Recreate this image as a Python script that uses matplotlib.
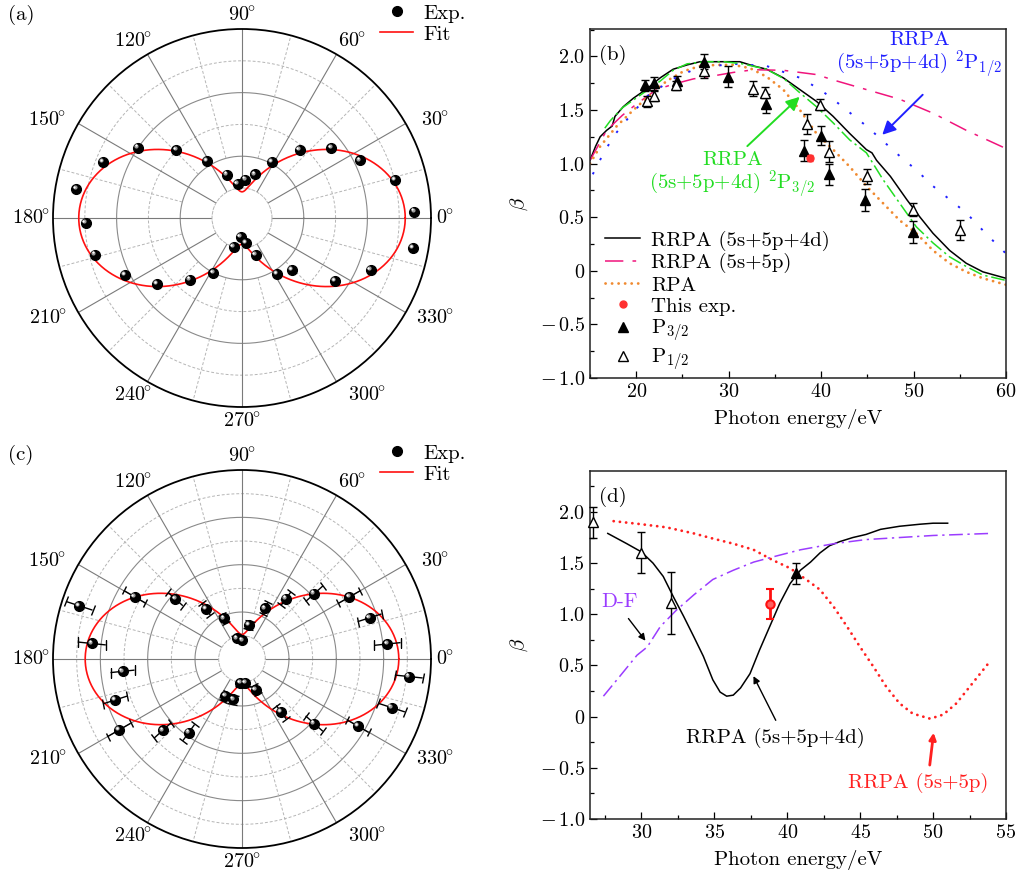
import numpy as np
import matplotlib
matplotlib.use('Agg')
import matplotlib.pyplot as plt
from matplotlib.ticker import MultipleLocator, FuncFormatter
from matplotlib.lines import Line2D
from matplotlib.transforms import offset_copy

plt.rcParams['font.family'] = 'cmr10'
plt.rcParams['mathtext.fontset'] = 'cm'
plt.rcParams['axes.unicode_minus'] = False
plt.rcParams['axes.formatter.use_mathtext'] = True
plt.rcParams['font.size'] = 14

# ---- (a) angular distribution, radial units = grid rings ----
theta_a = [170.1, 181.9, 194.0, 158.0, 206.0, 145.9, 217.9, 133.9, 229.9, 121.6,
           242.5, 109.1, 253.8, 97.2, 265.9, 85.0, 279.0, 73.4, 290.3, 61.8,
           301.8, 314.1, 49.8, 38.1, 326.0, 26.0, 338.0, 13.9, 2.1, 350.0]
r_a = [4.34, 3.98, 3.82, 3.78, 3.14, 3.01, 2.45, 2.03, 1.59, 1.17,
       1.01, 0.50, 0.00, 0.14, -0.35, 0.27, -0.14, 0.49, 0.30, 1.05,
       1.13, 1.33, 1.86, 2.63, 2.59, 3.19, 3.42, 4.01, 4.48, 4.51]
fit_a = (-0.12, 4.31)   # r = offset + amp * cos^2(theta)

# ---- (c) angular distribution with errors ----
theta_c = [161.9, 174.1, 185.9, 197.9, 210.0, 149.9, 222.0, 138.0, 234.1, 125.8,
           113.9, 245.9, 257.9, 103.6, 89.0, 266.0, 277.8, 78.4, 293.8, 65.3,
           306.4, 53.9, 42.1, 318.2, 30.0, 329.9, 17.9, 5.9, 342.0, 354.0]
r_c = [6.25, 5.39, 4.09, 4.65, 5.01, 4.26, 3.52, 2.80, 2.85, 1.61,
       0.89, 0.74, 0.76, -0.09, -0.20, 0.02, 0.05, 0.48, 0.44, 1.37,
       1.81, 2.17, 3.13, 3.11, 4.25, 4.67, 4.68, 5.19, 5.66, 6.10]
err_c = [0.59, 0.59, 0.51, 0.53, 0.56, 0.53, 0.49, 0.42, 0.42, 0.31,
         0.21, 0.21, 0.21, 0.14, 0.14, 0.14, 0.14, 0.17, 0.21, 0.28,
         0.35, 0.35, 0.49, 0.49, 0.53, 0.53, 0.53, 0.56, 0.59, 0.59]
fit_c = (0.05, 5.59)

angle_labels = [0, 30, 60, 90, 120, 150, 180, 210, 240, 270, 300, 330]

# ---- (b) beta vs photon energy ----
rrpa_b_x = [15.0, 15.6, 16.1, 16.8, 17.4, 17.7, 18.6, 19.7, 21.2, 22.6, 24.0, 25.5, 26.9,
            28.4, 31.2, 32.7, 34.1, 35.9, 37.7, 39.5, 41.3, 43.1, 44.9, 45.5, 46.0, 47.5,
            49.3, 50.7, 52.1, 53.9, 55.7, 57.5, 60.0]
rrpa_b_y = [1.03, 1.16, 1.25, 1.31, 1.35, 1.44, 1.53, 1.61, 1.70, 1.80, 1.88, 1.92, 1.95,
            1.95, 1.95, 1.91, 1.88, 1.80, 1.69, 1.58, 1.44, 1.28, 1.13, 1.10, 1.03, 0.88,
            0.66, 0.50, 0.35, 0.19, 0.07, -0.01, -0.07]
rrpa55_b_x = [15.0, 16.8, 18.5, 20.1, 22.2, 24.0, 26.2, 28.5, 30.5, 32.7, 35.9, 39.5,
              41.3, 44.9, 48.5, 52.1, 55.7, 60.0]
rrpa55_b_y = [1.03, 1.31, 1.45, 1.56, 1.69, 1.74, 1.79, 1.82, 1.85, 1.875, 1.87, 1.83,
              1.78, 1.69, 1.60, 1.47, 1.31, 1.14]
rpa_b_x = [15.0, 16.1, 17.9, 19.7, 21.5, 23.3, 25.1, 26.9, 28.7, 30.5, 32.3, 34.1, 35.9,
           37.7, 39.5, 41.3, 43.1, 44.9, 46.7, 48.5, 50.3, 52.1, 53.9, 55.7, 57.5, 60.0]
rpa_b_y = [1.00, 1.16, 1.35, 1.50, 1.64, 1.77, 1.86, 1.91, 1.92, 1.92, 1.89, 1.81, 1.69,
           1.50, 1.28, 1.13, 0.97, 0.79, 0.63, 0.47, 0.35, 0.19, 0.07, -0.01, -0.07, -0.13]
p12_b_x = [15.3, 16.0, 17.5, 19.0, 21.2, 24.0, 26.2, 28.4, 30.5, 34.1, 37.7, 39.9, 41.3,
           44.9, 48.5, 50.3, 52.1, 55.7, 57.9, 60.0]
p12_b_y = [0.90, 1.02, 1.25, 1.41, 1.63, 1.79, 1.875, 1.91, 1.93, 1.91, 1.80, 1.69, 1.60,
           1.35, 1.07, 0.94, 0.79, 0.54, 0.34, 0.16]
p32_b_x = [16.6, 17.2, 18.5, 20.8, 22.6, 24.0, 25.5, 27.5, 29.5, 31.5, 34.1, 36.0, 37.7,
           39.5, 41.3, 43.1, 44.9, 46.7, 48.5, 50.3, 52.1, 53.9, 55.7, 57.5, 60.0]
p32_b_y = [1.33, 1.40, 1.52, 1.66, 1.77, 1.87, 1.93, 1.95, 1.95, 1.93, 1.88, 1.79, 1.66,
           1.53, 1.38, 1.22, 1.10, 0.85, 0.63, 0.41, 0.26, 0.13, 0.04, -0.04, -0.09]
fill_b_x = [20.9, 21.9, 24.4, 27.3, 29.9, 34.0, 38.2, 40.0, 40.8, 44.8, 49.9]
fill_b_y = [1.73, 1.75, 1.77, 1.95, 1.81, 1.56, 1.12, 1.26, 0.90, 0.66, 0.36]
fill_b_e = [0.05, 0.06, 0.05, 0.07, 0.10, 0.09, 0.10, 0.09, 0.10, 0.10, 0.10]
open_b_x = [21.2, 21.9, 24.3, 27.3, 32.6, 33.9, 38.5, 39.9, 40.8, 45.0, 49.9, 55.0]
open_b_y = [1.58, 1.63, 1.73, 1.86, 1.70, 1.66, 1.37, 1.55, 1.11, 0.88, 0.57, 0.38]
open_b_e = [0.05, 0.05, 0.04, 0.06, 0.07, 0.05, 0.09, 0.05, 0.10, 0.07, 0.06, 0.09]
this_b = (38.8, 1.05, 0.03)

# ---- (d) beta vs photon energy ----
rrpa_d_x = [27.7, 29.0, 30.0, 30.8, 31.5, 32.2, 32.9, 33.6, 34.25, 34.9, 35.4, 35.85,
            36.3, 36.8, 37.45, 38.1, 38.8, 39.5, 40.2, 40.9, 41.6, 42.25, 42.9, 43.6,
            44.5, 45.4, 46.4, 47.7, 49.1, 50.0, 51.0]
rrpa_d_y = [1.79, 1.69, 1.61, 1.50, 1.37, 1.17, 0.98, 0.78, 0.59, 0.36, 0.24, 0.20,
            0.21, 0.28, 0.42, 0.65, 0.88, 1.11, 1.30, 1.43, 1.51, 1.60, 1.67, 1.71,
            1.75, 1.78, 1.83, 1.86, 1.88, 1.89, 1.89]
rrpa55_d_x = [28.1, 30.0, 31.7, 33.6, 34.9, 36.3, 37.7, 39.0, 40.2, 41.3, 42.25, 43.2,
              44.1, 45.0, 45.9, 46.8, 47.7, 48.6, 49.8, 50.7, 51.6, 52.5, 53.9]
rrpa55_d_y = [1.91, 1.88, 1.85, 1.79, 1.74, 1.69, 1.63, 1.53, 1.45, 1.34, 1.24, 1.07,
              0.88, 0.68, 0.49, 0.29, 0.13, 0.03, -0.02, 0.02, 0.13, 0.29, 0.54]
df_d_x = [27.4, 28.5, 29.7, 30.4, 31.3, 32.4, 33.6, 34.9, 36.3, 37.7, 39.0, 40.9,
          43.2, 45.4, 47.7, 50.0, 53.9]
df_d_y = [0.20, 0.39, 0.60, 0.68, 0.88, 1.04, 1.19, 1.34, 1.43, 1.51, 1.56, 1.63,
          1.69, 1.73, 1.75, 1.77, 1.79]
open_d_x = [26.66, 30.0, 32.0]
open_d_y = [1.90, 1.60, 1.11]
open_d_e = [0.15, 0.20, 0.30]
fill_d = (40.6, 1.40, 0.10)
this_d = (38.8, 1.10, 0.15)

W, H = 1019, 876
fig = plt.figure(figsize=(W / 100, H / 100), dpi=100)
TXT = 15
# where each angle label sits, in px from the polar centre (x right, y up)
label_offsets = {0: (203, 0), 30: (193, 98), 60: (110, 177), 90: (0, 203),
                 120: (-109, 177), 150: (-195, 98), 180: (-211, 0), 210: (-194, -100),
                 240: (-109, -177), 270: (0, -203), 300: (125, -177), 330: (193, -100)}


def polar_panel(rect, th_deg, r, rmax, rorig, fit, err=None):
    ax = fig.add_axes(rect, projection='polar')
    ax.set_rorigin(rorig)
    ax.set_rlim(0, rmax)
    ax.set_yticks([])
    ax.grid(False)
    ticks = np.arange(0, 360, 15)
    ax.set_xticks(np.deg2rad(ticks))
    ax.set_xticklabels([''] * len(ticks))
    ax.tick_params(axis='x', direction='in', length=5, width=1)
    size_px = rect[2] * W
    for t in angle_labels:
        dx, dy = label_offsets[t]
        ax.text(0.5 + dx / size_px, 0.5 + dy / size_px, rf'${t}^{{\!\!\circ}}$',
                transform=ax.transAxes, ha='center', va='center', fontsize=14.5)
    ax.spines['polar'].set_linewidth(1.3)
    ax.spines['inner'].set_color('#b5b5b5')
    ax.spines['inner'].set_linewidth(0.7)
    ax.spines['inner'].set_linestyle((0, (3, 2)))

    circ = np.linspace(0, 2 * np.pi, 400)
    for k in range(1, rmax):
        if k % 2 == 1:
            ax.plot(circ, np.full_like(circ, k), color='#8a8a8a', lw=0.8, zorder=1)
        else:
            ax.plot(circ, np.full_like(circ, k), color='#b5b5b5', lw=0.7,
                    ls=(0, (3, 2)), zorder=1)
    for t in ticks:
        if t % 30 == 0:
            ax.plot([np.deg2rad(t)] * 2, [0, rmax], color='#7a7a7a', lw=0.8, zorder=1)
        else:
            ax.plot([np.deg2rad(t)] * 2, [1, rmax], color='#b5b5b5', lw=0.7,
                    ls=(0, (3, 2)), zorder=1)

    tf = np.linspace(0, 2 * np.pi, 721)
    ax.plot(tf, fit[0] + fit[1] * np.cos(tf) ** 2, color='#ff1010', lw=1.2,
            zorder=3, clip_on=False)

    th = np.deg2rad(th_deg)
    if err is not None:
        eb = ax.errorbar(th, r, yerr=err, fmt='none', ecolor='k', elinewidth=1.0,
                         capsize=3.5, capthick=1.0, zorder=4)
        for a in eb.get_children():
            a.set_clip_on(False)
    ax.plot(th, r, 'o', ms=7, color='k', zorder=5, clip_on=False)
    hl = offset_copy(ax.transData, fig=fig, x=-1.3, y=1.3, units='points')
    ax.plot(th, r, 'o', ms=3.0, color='#9a9a9a', mec='none', transform=hl,
            zorder=6, clip_on=False)
    hl2 = offset_copy(ax.transData, fig=fig, x=-1.6, y=1.6, units='points')
    ax.plot(th, r, 'o', ms=1.6, color='white', mec='none', transform=hl2,
            zorder=7, clip_on=False)
    return ax


def fig_legend_polar(ax, top_px):
    h = [Line2D([], [], marker='o', ls='none', color='k', ms=7),
         Line2D([], [], color='#ff1010', lw=1.2)]
    ax.legend(h, ['Exp.', 'Fit'], loc='upper left',
              bbox_to_anchor=(380 / W, 1 - top_px / H), bbox_transform=fig.transFigure,
              frameon=False, handlelength=1.6, handletextpad=0.5, labelspacing=0.12,
              borderpad=0, borderaxespad=0, fontsize=TXT)


axa = polar_panel([53 / W, 469 / H, 378 / W, 378 / H], theta_a, r_a, 5, -0.943, fit_a)
fig_legend_polar(axa, 4)
axc = polar_panel([53 / W, 28 / H, 378 / W, 378 / H], theta_c, r_c, 7, -0.985, fit_c, err_c)
fig_legend_polar(axc, 444)
fig.text(8 / W, 1 - 15 / H, '(a)', va='center', ha='left', fontsize=TXT)
fig.text(8 / W, 1 - 455 / H, '(c)', va='center', ha='left', fontsize=TXT)


def cart_style(ax, xlim, ylim, xmaj, xmin):
    ax.set_xlim(*xlim)
    ax.set_ylim(*ylim)
    ax.xaxis.set_major_locator(MultipleLocator(xmaj))
    ax.xaxis.set_minor_locator(MultipleLocator(xmin))
    ax.yaxis.set_major_locator(MultipleLocator(0.5))
    ax.yaxis.set_minor_locator(MultipleLocator(0.25))
    ax.xaxis.set_major_formatter(FuncFormatter(lambda v, p: f'${v:.0f}$'))
    ax.yaxis.set_major_formatter(FuncFormatter(
        lambda v, p: '$0$' if abs(v) < 1e-9 else
        (r'$-\,%.1f$' % abs(v) if v < 0 else f'${v:.1f}$')))
    ax.tick_params(which='both', direction='in', top=False, right=False, labelsize=14.5)
    ax.tick_params(which='major', length=5, width=0.9)
    ax.tick_params(which='minor', length=3, width=0.9)
    for s in ax.spines.values():
        s.set_linewidth(1.1)
        s.set_color('#222222')
    ax.set_xlabel('Photon energy/eV', fontsize=TXT, labelpad=6)
    ax.set_ylabel(r'$\beta$', fontsize=15, labelpad=7)


# ---------- (b) ----------
axb = fig.add_axes([590 / W, 498 / H, 416 / W, 349 / H])
cart_style(axb, (15, 60), (-1.0, 2.255), 10, 5)
l1, = axb.plot(rrpa_b_x, rrpa_b_y, color='k', lw=1.1, label='RRPA (5s+5p+4d)')
l2, = axb.plot(rrpa55_b_x, rrpa55_b_y, color='#f0147c', lw=1.1, dashes=(12, 6, 2.4, 6),
               label='RRPA (5s+5p)')
l3, = axb.plot(rpa_b_x, rpa_b_y, color='#f08a30', lw=2.0, dashes=(0.05, 2.3),
               dash_capstyle='round', label='RPA')
axb.plot(p12_b_x, p12_b_y, color='#2020ff', lw=1.4, dashes=(1.2, 7))
axb.plot(p32_b_x, p32_b_y, color='#22dd22', lw=1.1, dashes=(9, 2.5, 1.5, 2.5))
axb.errorbar(fill_b_x, fill_b_y, yerr=fill_b_e, fmt='none', ecolor='k', elinewidth=1,
             capsize=3, capthick=1, zorder=4)
axb.errorbar(open_b_x, open_b_y, yerr=open_b_e, fmt='none', ecolor='k', elinewidth=1,
             capsize=3, capthick=1, zorder=4)
m1, = axb.plot(fill_b_x, fill_b_y, '^', ms=7.5, color='k', ls='none', zorder=5,
               label=r'P$_{3/2}$')
m2, = axb.plot(open_b_x, open_b_y, '^', ms=7.5, mfc='white', mec='k', mew=1.0,
               ls='none', zorder=5, label=r'P$_{1/2}$')
axb.errorbar([this_b[0]], [this_b[1]], yerr=[this_b[2]], fmt='none', ecolor='#ff2a2a',
             elinewidth=1.5, capsize=2.5, zorder=6)
m0, = axb.plot([this_b[0]], [this_b[1]], 'o', ms=5, color='#ff3030', ls='none',
               zorder=7, label='This exp.')
axb.legend([l1, l2, l3, m0, m1, m2], [h.get_label() for h in [l1, l2, l3, m0, m1, m2]],
           loc='upper left', bbox_to_anchor=(0.036, 0.422), frameon=False,
           handlelength=1.7, handletextpad=0.5, labelspacing=0.12, borderpad=0,
           borderaxespad=0, fontsize=TXT)
axb.text(0.022, 0.955, '(b)', transform=axb.transAxes, va='top', ha='left', fontsize=TXT)
axb.text(50.6, 2.00, 'RRPA\n' + r'(5s+5p+4d) $^2$P$_{1/2}$', color='#2020ff',
         ha='center', va='center', ma='center', linespacing=1.0, fontsize=TXT)
axb.annotate('', xy=(46.4, 1.25), xytext=(51.2, 1.66),
             arrowprops=dict(arrowstyle='-|>', color='#2020ff', lw=1.4, mutation_scale=20))
axb.text(30.4, 0.885, 'RRPA\n' + r'(5s+5p+4d) $^2$P$_{3/2}$', color='#22dd22',
         ha='center', va='center', ma='center', linespacing=1.0, fontsize=TXT)
axb.annotate('', xy=(37.9, 1.64), xytext=(31.8, 1.145),
             arrowprops=dict(arrowstyle='-|>', color='#22dd22', lw=1.4, mutation_scale=20))

# ---------- (d) ----------
axd = fig.add_axes([590 / W, 57 / H, 416 / W, 348 / H])
cart_style(axd, (26.48, 55), (-1.0, 2.4), 5, 2.5)
axd.plot(rrpa_d_x, rrpa_d_y, color='k', lw=1.1)
axd.plot(rrpa55_d_x, rrpa55_d_y, color='#ff2020', lw=2.0, dashes=(0.05, 2.2),
         dash_capstyle='round')
axd.plot(df_d_x, df_d_y, color='#9b3cff', lw=1.1, dashes=(9, 3, 1.5, 3))
axd.errorbar(open_d_x, open_d_y, yerr=open_d_e, fmt='^', ms=7.5, mfc='white', mec='k',
             mew=1.0, ecolor='k', elinewidth=1, capsize=3, capthick=1, zorder=5,
             clip_on=False)
axd.errorbar([fill_d[0]], [fill_d[1]], yerr=[fill_d[2]], fmt='^', ms=7.5, color='k',
             elinewidth=1, capsize=3, capthick=1, zorder=5)
axd.errorbar([this_d[0]], [this_d[1]], yerr=[this_d[2]], fmt='o', ms=6, mfc='#ff6060',
             mec='#ff1010', mew=1.5, ecolor='#ff1010', elinewidth=2, capsize=3,
             capthick=2, zorder=6)
axd.text(0.022, 0.955, '(d)', transform=axd.transAxes, va='top', ha='left', fontsize=TXT)
axd.text(28.5, 1.12, 'D-F', color='#9b3cff', ha='center', va='center', fontsize=TXT)
axd.annotate('', xy=(30.4, 0.72), xytext=(29.0, 0.98),
             arrowprops=dict(arrowstyle='-|>', color='k', lw=1.0, mutation_scale=10))
axd.text(39.2, -0.21, 'RRPA (5s+5p+4d)', color='k', ha='center', va='center', fontsize=TXT)
axd.annotate('', xy=(37.6, 0.42), xytext=(39.3, -0.06),
             arrowprops=dict(arrowstyle='-|>', color='k', lw=1.0, mutation_scale=10))
axd.text(49.0, -0.65, 'RRPA (5s+5p)', color='#ff2020', ha='center', va='center',
         fontsize=TXT)
axd.annotate('', xy=(50.06, -0.13), xytext=(49.75, -0.50),
             arrowprops=dict(arrowstyle='-|>', color='#ff2020', lw=2.0, mutation_scale=10))

fig.savefig('out.png', dpi=100)
